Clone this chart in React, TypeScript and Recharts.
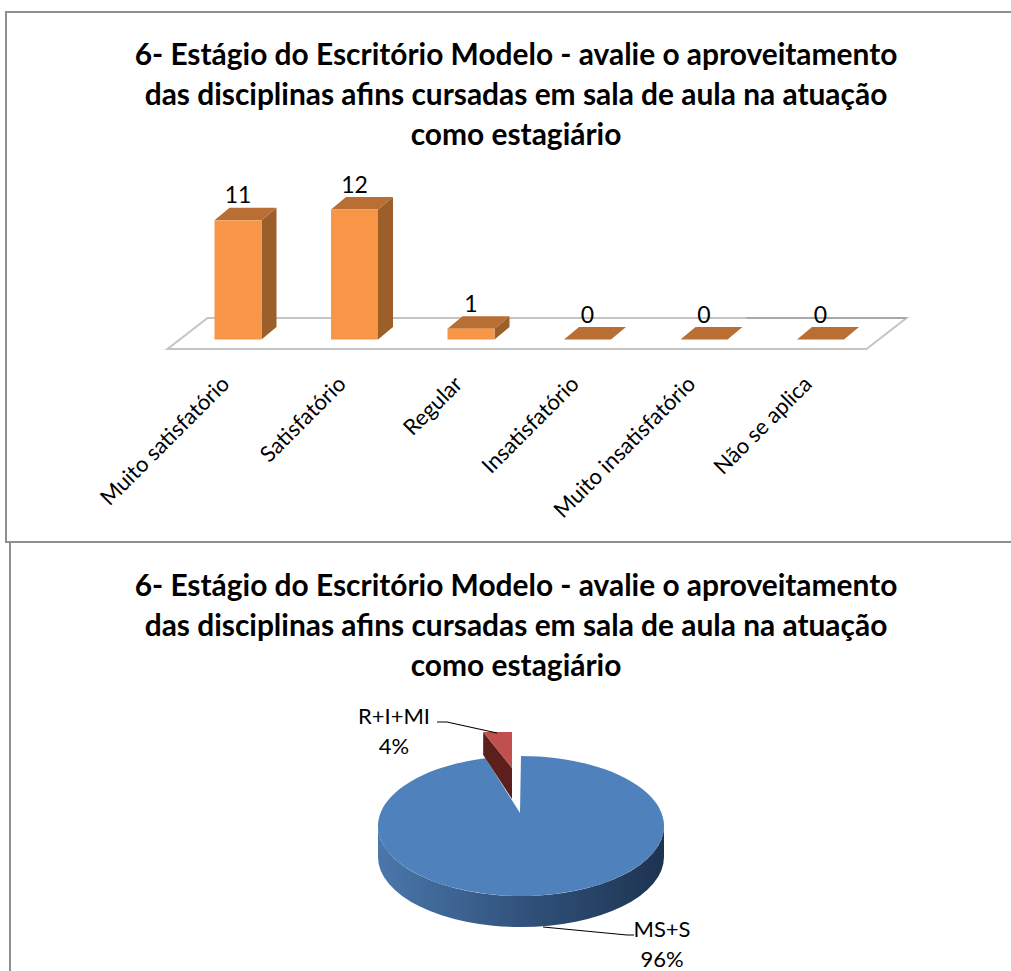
import React from 'react';
import { Bar, BarChart, LabelList, Pie, PieChart, XAxis, YAxis, usePlotArea } from 'recharts';

const titleLines = [
  '6- Estágio do Escritório Modelo - avalie o aproveitamento',
  'das disciplinas afins cursadas em sala de aula na atuação',
  'como estagiário',
];

const answerLabels = ['Muito satisfatório', 'Satisfatório', 'Regular', 'Insatisfatório', 'Muito insatisfatório', 'Não se aplica'];
const answerCounts = [11, 12, 1, 0, 0, 0];

const groupLabels = ['MS+S', 'R+I+MI'];
const groupShares = [96, 4];

const barData = answerLabels.map((label, i) => ({ label, count: answerCounts[i] }));
const pieData = groupLabels.map((name, i) => ({ name, value: groupShares[i] }));

const FONT = 'Lato, sans-serif';
const DX = 15;
const DY = 12.5;

// the flat floor under the 3d columns
function Floor() {
  const area = usePlotArea();
  if (!area) return null;
  const bottom = area.y + area.height + 9.5;
  const left = area.x - 12;
  const right = area.x + area.width - 12;
  const back = bottom - 31;
  return (
    <g>
      <polygon
        points={`${left},${bottom} ${right},${bottom} ${right + 40},${back} ${left + 40},${back}`}
        fill="#fff"
        stroke="#c4c4c4"
        strokeWidth={2}
      />
      <line x1={right - 120} y1={back} x2={right + 40} y2={back} stroke="#a8a8a8" strokeWidth={2} />
    </g>
  );
}

function Column3D(props: any) {
  const { x, y, width, height } = props;
  const b = y + height;
  const r = x + width;
  return (
    <g>
      <polygon points={`${r},${y} ${r + DX},${y - DY} ${r + DX},${b - DY} ${r},${b}`} fill="#9c5f2a" />
      <polygon points={`${x},${y} ${x + DX},${y - DY} ${r + DX},${y - DY} ${r},${y}`} fill="#b96f34" />
      <rect x={x} y={y} width={width} height={height} fill="#f79646" />
    </g>
  );
}

function RotatedTick(props: any) {
  const { x, y, payload } = props;
  return (
    <text x={x - 7} y={y + 38} transform={`rotate(-45 ${x - 7} ${y + 38})`} textAnchor="end" fontFamily={FONT} fontSize={22} fill="#000">
      {payload.value}
    </text>
  );
}

const RX_RATIO = 70 / 143;
const DEPTH = 31;

function rim(cx: number, cy: number, r: number, deg: number) {
  const a = (deg * Math.PI) / 180;
  return [cx + r * Math.cos(a), cy - r * RX_RATIO * Math.sin(a)];
}

// pie slices drawn tilted, the small one pulled out of the disc
function TiltedSlice(props: any) {
  const { cx, cy, outerRadius: r, startAngle, endAngle, fill, name } = props;
  const ry = r * RX_RATIO;
  if (name === groupLabels[0]) {
    const [sx, sy] = rim(cx, cy, r, startAngle);
    const [ex, ey] = rim(cx, cy, r, endAngle);
    return (
      <g>
        <defs>
          <linearGradient id="wall" x1="0" y1="0" x2="1" y2="0">
            <stop offset="0%" stopColor="#4a77ab" />
            <stop offset="55%" stopColor="#2f4f78" />
            <stop offset="100%" stopColor="#1d3450" />
          </linearGradient>
        </defs>
        <path d={`M${cx - r},${cy} A${r},${ry} 0 0 0 ${cx + r},${cy} L${cx + r},${cy + DEPTH} A${r},${ry} 0 0 1 ${cx - r},${cy + DEPTH} Z`} fill="url(#wall)" />
        <path d={`M${sx},${sy} A${r},${ry} 0 1 1 ${ex},${ey} L${cx - 1},${cy - 13} Z`} fill={fill} />
      </g>
    );
  }
  const [ex, ey] = rim(cx, cy, r, endAngle);
  const [sx, sy] = rim(cx, cy, r, startAngle);
  const ox = ex - 9;
  const oy = ey - 24;
  const lx = sx + (ex - sx) * 0.19 - 9;
  const ly = oy;
  const ax = ox;
  const ay = oy + 36;
  return (
    <g>
      <polygon points={`${lx},${ly} ${lx},${ly + 23} ${ax},${ay + DEPTH} ${ax},${ay}`} fill="#5b1f1d" />
      <polygon points={`${lx},${ly} ${ox},${oy} ${ax},${ay}`} fill={fill} />
    </g>
  );
}

const calloutLayout: Record<string, any> = {
  [groupLabels[0]]: { line: '543,927 627,935 634,935', textX: 662, textY: 937 },
  [groupLabels[1]]: { line: '437,722 447,722 497,733', textX: 394, textY: 724 },
};

function Callout(props: any) {
  const { name, percent } = props;
  const c = calloutLayout[name];
  return (
    <g>
      <polyline points={c.line} fill="none" stroke="#000" strokeWidth={1.2} />
      <text x={c.textX} y={c.textY} textAnchor="middle" fontFamily={FONT} fontSize={22} fill="#000">{name}</text>
      <text x={c.textX} y={c.textY + 30} textAnchor="middle" fontFamily={FONT} fontSize={22} fill="#000">{`${Math.round(percent * 100)}%`}</text>
    </g>
  );
}

function Title({ top }: { top: number }) {
  return (
    <div style={{ position: 'absolute', left: 0, top, width: 1032, textAlign: 'center', fontFamily: FONT, fontWeight: 700, fontSize: 29.9, lineHeight: '40px', color: '#000' }}>
      {titleLines.map(l => <div key={l}>{l}</div>)}
    </div>
  );
}

export default function App() {
  return (
    <div style={{ position: 'absolute', left: 0, top: 0, width: 1011, height: 971, overflow: 'hidden', background: '#fff' }}>
      <div style={{ position: 'absolute', left: 5, top: 11, width: 1011, height: 532, border: '2px solid #8f8f8f', boxSizing: 'border-box' }} />
      <div style={{ position: 'absolute', left: 9, top: 541, width: 1011, height: 440, borderLeft: '2px solid #8f8f8f', boxSizing: 'border-box' }} />
      <Title top={33} />
      <Title top={564} />

      <div style={{ position: 'absolute', left: 0, top: 0 }}>
        <BarChart width={1011} height={540} data={barData} margin={{ top: 209.5, right: 132.5, bottom: 0, left: 179.5 }} barSize={47}>
          <Floor />
          <XAxis dataKey="label" interval={0} axisLine={false} tickLine={false} tick={<RotatedTick />} height={200.5} />
          <YAxis hide domain={[0, 12]} />
          <Bar dataKey="count" shape={<Column3D />} isAnimationActive={false}>
            <LabelList dataKey="count" position="top" offset={17} fontFamily={FONT} fontSize={23} fill="#000" />
          </Bar>
        </BarChart>
      </div>

      <div style={{ position: 'absolute', left: 0, top: 0 }}>
        <PieChart width={1011} height={971} margin={{ top: 0, right: 0, bottom: 0, left: 0 }}>
          <Pie
            data={pieData}
            dataKey="value"
            nameKey="name"
            cx={521}
            cy={826}
            outerRadius={143}
            startAngle={90}
            endAngle={-270}
            stroke="none"
            fill="#4f81bd"
            shape={(p: any) => <TiltedSlice {...p} fill={p.name === groupLabels[0] ? '#4f81bd' : '#c0504d'} />}
            label={(p: any) => <Callout {...p} />}
            labelLine={false}
            isAnimationActive={false}
          />
        </PieChart>
      </div>
    </div>
  );
}
